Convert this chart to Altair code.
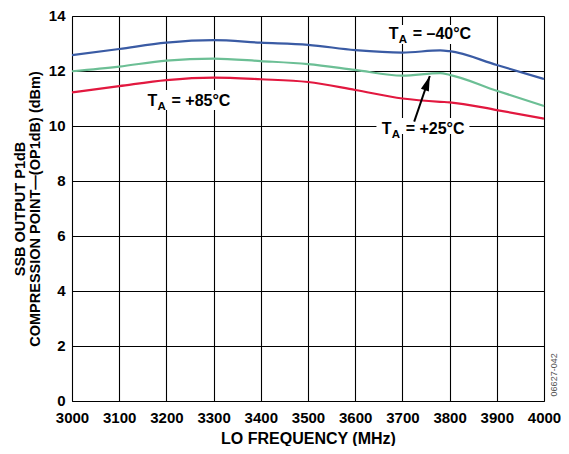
import altair as alt
import pandas as pd

# LO frequency (MHz)
freq = [3000, 3100, 3200, 3300, 3400, 3500, 3600, 3700, 3780, 3800, 3900, 4000]
# SSB output P1dB (dBm)
op1db_m40 = [12.58, 12.80, 13.03, 13.12, 13.03, 12.95, 12.76, 12.67, 12.75, 12.72, 12.22, 11.71]
op1db_p25 = [11.99, 12.16, 12.38, 12.45, 12.36, 12.25, 12.04, 11.83, 11.92, 11.86, 11.28, 10.73]
op1db_p85 = [11.22, 11.45, 11.67, 11.76, 11.70, 11.60, 11.31, 11.00, 10.88, 10.86, 10.58, 10.27]

series_names = ["-40", "+25", "+85"]
series_colors = ["#3a5ba4", "#6cbf95", "#e2183f"]

x_ticks = list(range(3000, 4001, 100))
y_ticks = list(range(0, 15, 2))

# annotation anchors (data coordinates)
ann_x = [3671, 3160, 3656]
ann_y = [13.15, 10.73, 9.71]
ann_rest = ["= \u201340\u00b0C", "= +85\u00b0C", "= +25\u00b0C"]
box_x = [3662, 3150, 3645]
box_x2 = [3852, 3342, 3842]
box_y = [12.98, 10.58, 9.71]
box_y2 = [13.67, 11.31, 10.29]
arrow_tail = (3725, 10.16)
arrow_tip = (3758, 11.82)
note_text = "06627-042"
note_x = 4021
note_y = 0.95

FONT = "Liberation Sans"

rows = []
for name, vals in zip(series_names, [op1db_m40, op1db_p25, op1db_p85]):
    for f, v in zip(freq, vals):
        rows.append({"freq": f, "val": v, "series": name})
df = pd.DataFrame(rows)

xs = alt.Scale(domain=[3000, 4000], nice=False, zero=False)
ys = alt.Scale(domain=[0, 14], nice=False)

x_enc = alt.X("freq:Q", scale=xs, title="LO FREQUENCY (MHz)",
              axis=alt.Axis(values=x_ticks, format="d", grid=True, gridColor="#000000",
                            gridOpacity=1, gridWidth=1.1, ticks=False, domainColor="#000000",
                            labelFont=FONT, labelFontSize=15, labelFontWeight="bold",
                            labelColor="#000000", labelPadding=9, labelFlush=False,
                            titleFont=FONT, titleFontSize=16, titleFontWeight="bold",
                            titleColor="#000000", titlePadding=5))
y_enc = alt.Y("val:Q", scale=ys,
              title=["SSB OUTPUT P1dB", "COMPRESSION POINT\u2014(OP1dB) (dBm)"],
              axis=alt.Axis(values=y_ticks, grid=True, gridColor="#000000", gridOpacity=1,
                            gridWidth=1.1, ticks=False, domainColor="#000000",
                            labelFont=FONT, labelFontSize=15, labelFontWeight="bold",
                            labelColor="#000000", labelPadding=7, labelFlush=False,
                            labelOffset=-1,
                            titleFont=FONT, titleFontSize=14.5, titleFontWeight="bold",
                            titleColor="#000000", titlePadding=6, titleLineHeight=15))

lines = alt.Chart(df).mark_line(strokeWidth=2.2, interpolate="monotone").encode(
    x=x_enc, y=y_enc,
    color=alt.Color("series:N", scale=alt.Scale(domain=series_names, range=series_colors),
                    legend=None),
    detail="series:N",
)

ann = pd.DataFrame({"x": ann_x, "y": ann_y, "rest": ann_rest,
                    "bx": box_x, "bx2": box_x2, "by": box_y, "by2": box_y2})

boxes = alt.Chart(ann).mark_rect(color="white").encode(
    x=alt.X("bx:Q", scale=xs), x2="bx2:Q", y=alt.Y("by:Q", scale=ys), y2="by2:Q")

base_t = alt.Chart(ann).encode(x=alt.X("x:Q", scale=xs), y=alt.Y("y:Q", scale=ys))
t_T = base_t.mark_text(text="T", align="left", baseline="alphabetic", font=FONT,
                       fontSize=16, fontWeight="bold", color="#000000")
t_A = base_t.mark_text(text="A", align="left", baseline="alphabetic", font=FONT,
                       fontSize=11.5, fontWeight="bold", color="#000000", dx=10, dy=4)
t_rest = base_t.mark_text(align="left", baseline="alphabetic", font=FONT, fontSize=16,
                          fontWeight="bold", color="#000000", dx=24).encode(text="rest:N")

arr = pd.DataFrame({"x": [arrow_tail[0]], "y": [arrow_tail[1]],
                    "x2": [arrow_tip[0]], "y2": [arrow_tip[1]]})
shaft = alt.Chart(arr).mark_rule(color="#000000", strokeWidth=2).encode(
    x=alt.X("x:Q", scale=xs), y=alt.Y("y:Q", scale=ys), x2="x2:Q", y2="y2:Q")
head = alt.Chart(arr).mark_point(shape="M0,0 L0.28,1 L-0.28,1 Z", filled=True, opacity=1,
                                 color="#000000", size=900, angle=19).encode(
    x=alt.X("x2:Q", scale=xs), y=alt.Y("y2:Q", scale=ys))

note = alt.Chart(pd.DataFrame({"x": [note_x], "y": [note_y], "t": [note_text]})).mark_text(
    angle=270, align="center", baseline="middle", font=FONT, fontSize=9,
    color="#555555").encode(x=alt.X("x:Q", scale=xs), y=alt.Y("y:Q", scale=ys), text="t:N")

chart = alt.layer(boxes, lines, t_T, t_A, t_rest, shaft, head, note).properties(
    width=472, height=385,
    autosize=alt.AutoSizeParams(type="none"),
    padding={"left": 64, "top": 8, "right": 17, "bottom": 45},
).configure_view(stroke="#000000", strokeWidth=1.2).configure(background="white")

chart.save("out.html", embed_options={"renderer": "svg", "actions": False})
